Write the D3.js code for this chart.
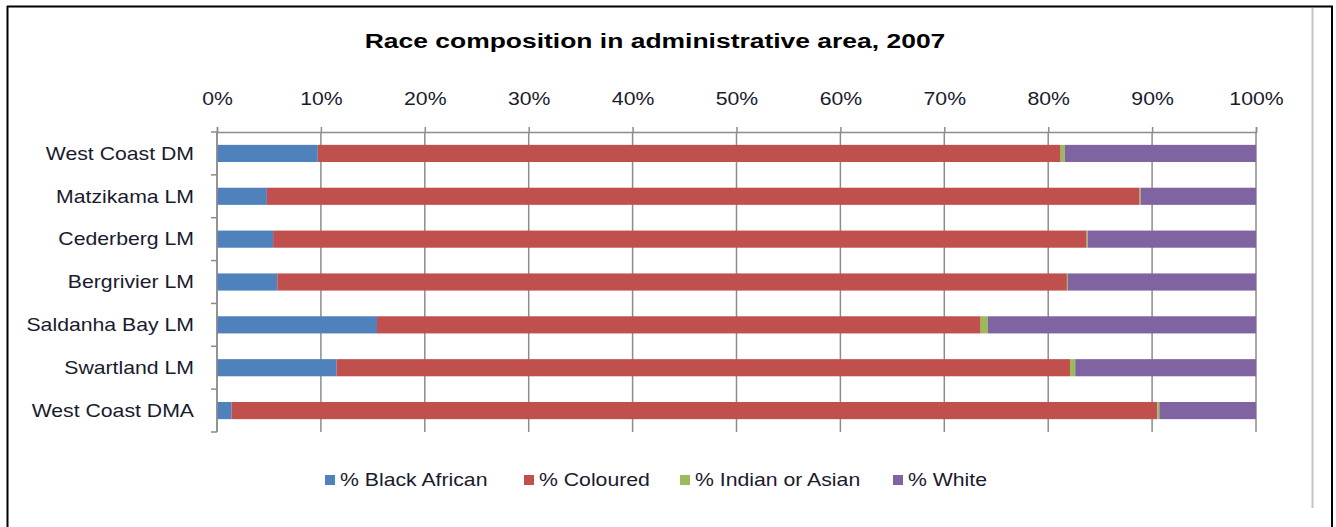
<!DOCTYPE html>
<html>
<head>
<meta charset="utf-8">
<script src="https://cdn.jsdelivr.net/npm/d3@7"></script>
<style>
  html, body { margin: 0; padding: 0; background: #fff; }
  svg { display: block; }
  text { font-family: "Liberation Sans", Arial, sans-serif; fill: #1a1a2e; }
</style>
</head>
<body>
<svg id="chart" width="1336" height="527"></svg>
<script>
// Administrative areas, top to bottom
const areas = ["West Coast DM", "Matzikama LM", "Cederberg LM", "Bergrivier LM",
               "Saldanha Bay LM", "Swartland LM", "West Coast DMA"];

// Share of population by race group (%)
const blackAfrican = [9.7, 4.8, 5.4, 5.8, 15.4, 11.5, 1.4];
const coloured     = [71.5, 84.0, 78.3, 76.0, 58.1, 70.6, 89.1];
const indianAsian  = [0.4, 0.1, 0.1, 0.1, 0.7, 0.5, 0.2];
const white        = [18.4, 11.1, 16.2, 18.1, 25.8, 17.4, 9.3];

const seriesNames = ["% Black African", "% Coloured", "% Indian or Asian", "% White"];
const seriesColors = ["#4f81bd", "#c0504d", "#9bbb59", "#8064a2"];
const tickValues = [0, 0.1, 0.2, 0.3, 0.4, 0.5, 0.6, 0.7, 0.8, 0.9, 1.0];

const svg = d3.select("#chart");
const W = 1336, H = 527;
const STRETCH = 1.18;   // wide text rendering

// Outer frame
svg.append("line").attr("x1", 7.5).attr("x2", 7.5).attr("y1", 6).attr("y2", H)
   .attr("stroke", "#000").attr("stroke-width", 2);
svg.append("line").attr("x1", 7).attr("x2", 1333).attr("y1", 6.5).attr("y2", 6.5)
   .attr("stroke", "#000").attr("stroke-width", 2);
svg.append("line").attr("x1", 1332).attr("x2", 1332).attr("y1", 6).attr("y2", H)
   .attr("stroke", "#000").attr("stroke-width", 2);
svg.append("line").attr("x1", 1312.5).attr("x2", 1312.5).attr("y1", 8).attr("y2", 508)
   .attr("stroke", "#c4c4c4").attr("stroke-width", 2);

// Title
svg.append("text").attr("transform", "translate(655,48) scale(1.26,1)").attr("text-anchor", "middle")
   .style("font-size", "21px").style("font-weight", "bold").style("fill", "#000")
   .text("Race composition in administrative area, 2007");

const x = d3.scaleLinear().domain([0, 1]).range([217, 1256]);
const y = d3.scaleBand().domain(areas).range([132, 432]).paddingInner(0.6).paddingOuter(0.3);

// Stack the data
const rows = areas.map((a, i) => ({
  area: a,
  [seriesNames[0]]: blackAfrican[i] / 100,
  [seriesNames[1]]: coloured[i] / 100,
  [seriesNames[2]]: indianAsian[i] / 100,
  [seriesNames[3]]: white[i] / 100
}));
const stacked = d3.stack().keys(seriesNames)(rows);

// Vertical gridlines
svg.append("g").selectAll("line").data(tickValues).join("line")
  .attr("x1", d => x(d)).attr("x2", d => x(d))
  .attr("y1", 132).attr("y2", 432)
  .attr("stroke", "#8c8c8c").attr("stroke-width", 1.5);

// Top axis
const xAxis = d3.axisTop(x).tickValues(tickValues).tickFormat(d3.format(".0%"))
  .tickSize(5).tickPadding(22);
const gx = svg.append("g").attr("transform", "translate(0,132)").call(xAxis);
gx.select(".domain").attr("stroke", "#8c8c8c").attr("stroke-width", 1.5);
gx.selectAll(".tick line").attr("stroke", "#8c8c8c").attr("stroke-width", 1.5);
gx.selectAll(".tick text").style("font-size", "18px").style("font-family", "Liberation Sans, Arial, sans-serif")
  .attr("fill", "#1a1a2e")
  .attr("transform", `scale(${STRETCH},1)`);

// Bars
svg.append("g").selectAll("g").data(stacked).join("g")
  .attr("fill", (d, i) => seriesColors[i])
  .selectAll("rect").data(d => d).join("rect")
  .attr("x", d => x(d[0]))
  .attr("width", d => x(d[1]) - x(d[0]))
  .attr("y", d => y(d.data.area))
  .attr("height", y.bandwidth());

// Left axis with ticks at band boundaries
const boundaries = d3.range(areas.length + 1).map(i => 132 + i * (300 / areas.length));
const gy = svg.append("g");
gy.append("line").attr("x1", 217).attr("x2", 217).attr("y1", 132).attr("y2", 432)
  .attr("stroke", "#8c8c8c").attr("stroke-width", 1.5);
gy.selectAll("line.tk").data(boundaries).join("line").attr("class", "tk")
  .attr("x1", 211).attr("x2", 217).attr("y1", d => d).attr("y2", d => d)
  .attr("stroke", "#8c8c8c").attr("stroke-width", 1.5);
gy.selectAll("text").data(areas).join("text")
  .attr("transform", d => `translate(194,${y(d) + y.bandwidth() / 2}) scale(${STRETCH},1)`)
  .attr("dy", "0.35em").attr("text-anchor", "end")
  .style("font-size", "18px").text(d => d);

// Legend
const legendX = [325, 524, 680, 893];
const lg = svg.append("g").selectAll("g").data(seriesNames).join("g")
  .attr("transform", (d, i) => `translate(${legendX[i]},475)`);
lg.append("rect").attr("width", 10).attr("height", 10).attr("fill", (d, i) => seriesColors[i]);
lg.append("text").attr("transform", `translate(15,5) scale(${STRETCH},1)`).attr("dy", "0.35em")
  .style("font-size", "18px").text(d => d);
</script>
</body>
</html>
